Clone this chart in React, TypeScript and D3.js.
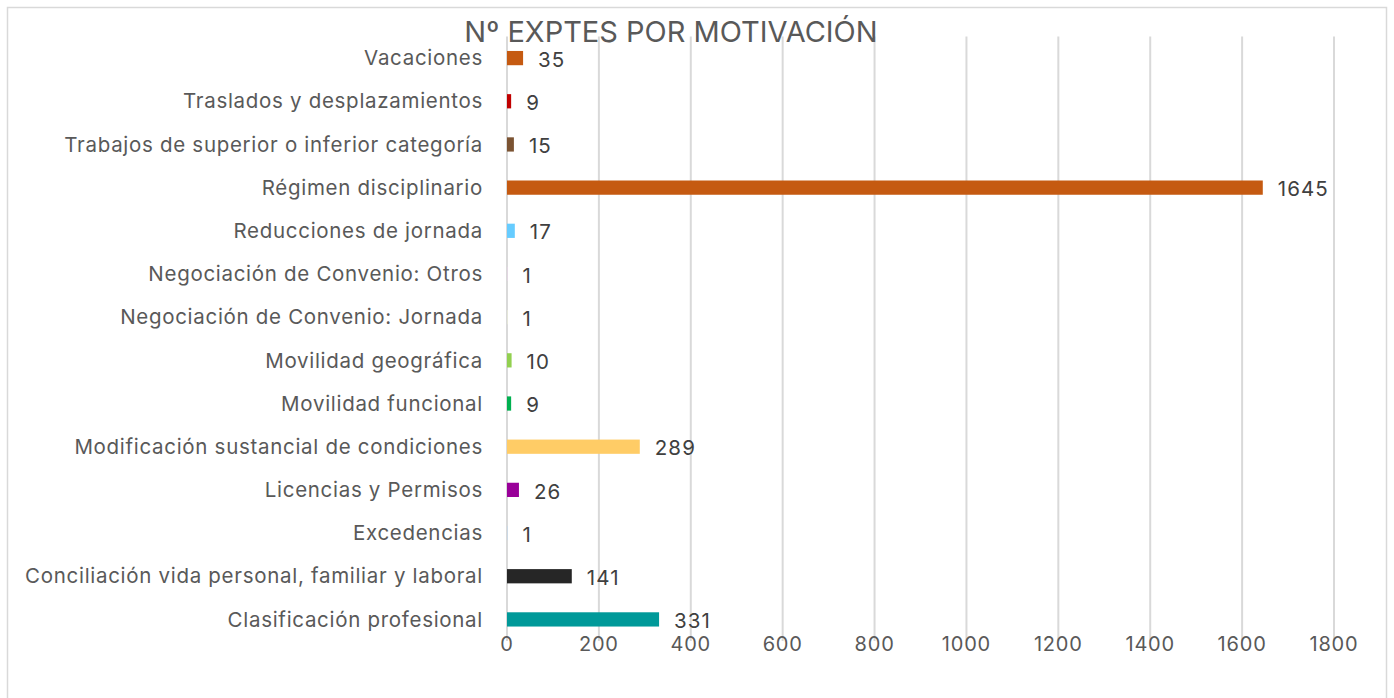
import React from "react";
import * as d3 from "d3";

const categories = [
  "Vacaciones",
  "Traslados y desplazamientos",
  "Trabajos de superior o inferior categoría",
  "Régimen disciplinario",
  "Reducciones de jornada",
  "Negociación de Convenio: Otros",
  "Negociación de Convenio: Jornada",
  "Movilidad geográfica",
  "Movilidad funcional",
  "Modificación sustancial de condiciones",
  "Licencias y Permisos",
  "Excedencias",
  "Conciliación vida personal, familiar y laboral",
  "Clasificación profesional",
];
const values = [35, 9, 15, 1645, 17, 1, 1, 10, 9, 289, 26, 1, 141, 331];
const colors = [
  "#C55A11", "#C00000", "#7B5332", "#C55A11", "#66CCFF", "#E8D3E8", "#EEF2D8",
  "#92D050", "#00B050", "#FFCC66", "#990099", "#BDD7EE", "#262626", "#009999",
];
const ticks = [0, 200, 400, 600, 800, 1000, 1200, 1400, 1600, 1800];
const title = "Nº EXPTES POR MOTIVACIÓN";

const W = 1394, H = 698;
const M = { left: 507, right: 60, top: 36.5, bottom: 57 };

export default function App() {
  const x = d3.scaleLinear().domain([0, 1800]).range([M.left, 1334]);
  const y = d3.scaleBand<string>().domain(categories).range([M.top, H - M.bottom]).paddingInner(0.67).paddingOuter(0.335);
  const font = "Inter, 'Noto Sans', sans-serif";
  return (
    <svg width={W} height={H} style={{ position: "absolute", left: 0, top: 0, background: "#fff" }}>
      <rect x={7.5} y={7.5} width={1379} height={700} fill="#fff" stroke="#D9D9D9" strokeWidth={1.5} />
      {ticks.map((t) => (
        <g key={t}>
          <line x1={x(t)} x2={x(t)} y1={M.top} y2={H - M.bottom} stroke="#D9D9D9" strokeWidth={2} />
          <text x={x(t)} y={651} textAnchor="middle" fontFamily={font} fontSize={20} letterSpacing={0.8} fill="#595959">{t}</text>
        </g>
      ))}
      {categories.map((c, i) => {
        const yy = y(c)!;
        const bw = y.bandwidth();
        return (
          <g key={c}>
            <rect x={x(0)} y={yy} width={Math.max(x(values[i]) - x(0), 0.5)} height={bw} fill={colors[i]} />
            <text x={483} y={yy + bw / 2} dy="0.35em" textAnchor="end" fontFamily={font} fontSize={20.5} letterSpacing={0.7} fill="#595959">{c}</text>
            <text x={x(values[i]) + 15} y={yy + bw / 2 + 1.5} dy="0.35em" textAnchor="start" fontFamily={font} fontSize={20.5} letterSpacing={1.1} fill="#404040">{values[i]}</text>
          </g>
        );
      })}
      <text x={671} y={42} textAnchor="middle" fontFamily={font} fontSize={29} fill="#595959">{title}</text>
    </svg>
  );
}
